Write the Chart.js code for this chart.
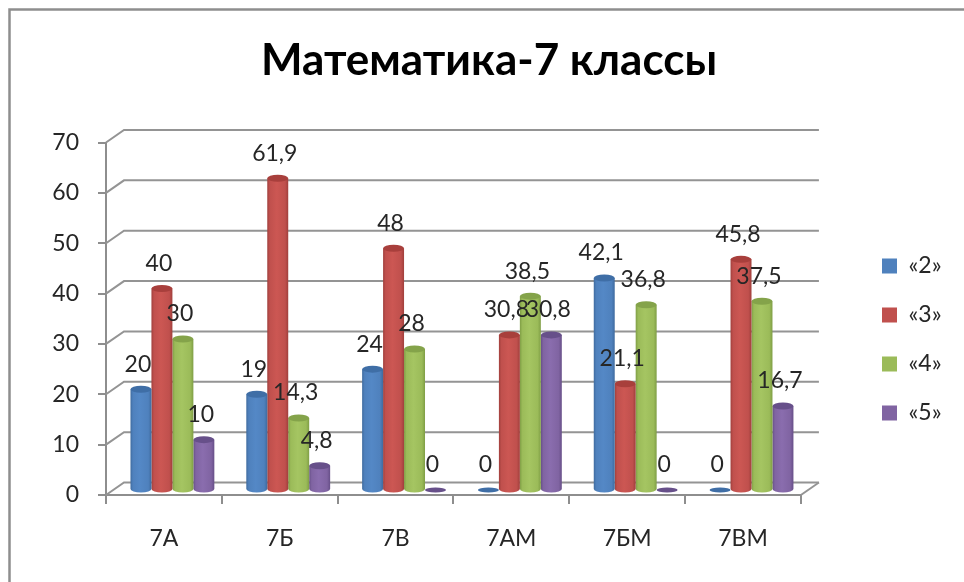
<!DOCTYPE html>
<html><head><meta charset="utf-8">
<style>html,body{margin:0;padding:0;background:#fff}canvas{display:block}</style>
<script src="https://cdn.jsdelivr.net/npm/chart.js@4"></script>
</head><body><canvas id="c" width="964" height="582"></canvas>
<script>
const categories = ["7А","7Б","7В","7АМ","7БМ","7ВМ"];
const seriesNames = ["«2»","«3»","«4»","«5»"];
const grade2 = [20,19,24,0,42.1,0];
const grade3 = [40,61.9,48,30.8,21.1,45.8];
const grade4 = [30,14.3,28,38.5,36.8,37.5];
const grade5 = [10,4.8,0,30.8,0,16.7];
const yTicks = [0,10,20,30,40,50,60,70];
const colors = ["#4f81bd","#c0504d","#9bbb59","#8064a2"];
const darks  = ["#3f6b9f","#a03f3c","#7f9e45","#674f88"];
const lights = ["#5488c6","#cc5753","#a5c562","#8a6dae"];
const caps   = ["#3f6ea6","#a83f3c","#84a34a","#67508a"];
const depth = {dx:18, dy:-12.5};
const barShift = {x:8.5, y:-5};
const CAT_PCT = 0.724;
const FONT = "Lato";

function stops(g,i){
  g.addColorStop(0,darks[i]); g.addColorStop(.12,colors[i]); g.addColorStop(.45,lights[i]);
  g.addColorStop(.85,colors[i]); g.addColorStop(1,darks[i]);
  return g;
}
function barFill(ctx){
  const ch = ctx.chart, xs = ch.scales.x;
  if(ctx.type!=='data' || !xs) return colors[ctx.datasetIndex];
  const w = (xs.right-xs.left)/categories.length*CAT_PCT/4;
  const l = xs.getPixelForValue(ctx.dataIndex)-2*w+ctx.datasetIndex*w;
  return stops(ch.ctx.createLinearGradient(l,0,l+w,0),ctx.datasetIndex);
}
const plugin3d = {
  id:'plugin3d',
  afterLayout(chart){
    const t = chart.titleBlock; t.left = 30; t.right = 948;
    const lg = chart.legend, h = lg.bottom-lg.top;
    lg.left = 882-lg.options.labels.padding; lg.right = 964;
    const top = 228.5; lg.top = top; lg.bottom = top+h;
  },
  beforeDraw(chart){
    const c = chart.ctx; c.save();
    c.strokeStyle="#8e8e8e"; c.lineWidth=2.5;
    c.beginPath(); c.moveTo(9.5,582); c.lineTo(9.5,9.5); c.lineTo(964,9.5); c.stroke();
    c.restore();
  },
  beforeDatasetsDraw(chart){
    const c = chart.ctx, ya = chart.scales.y, xa = chart.scales.x;
    c.save();
    c.strokeStyle="#949494"; c.lineWidth=2;
    yTicks.forEach(v=>{
      const y = ya.getPixelForValue(v);
      c.beginPath(); c.moveTo(xa.left,y); c.lineTo(xa.left+depth.dx,y+depth.dy); c.lineTo(xa.right+depth.dx,y+depth.dy); c.stroke();
    });
    const y0 = ya.getPixelForValue(0);
    c.beginPath(); c.moveTo(xa.right,y0); c.lineTo(xa.right+depth.dx,y0+depth.dy); c.stroke();
    c.restore();
    c.save(); c.translate(barShift.x,barShift.y);
  },
  afterDatasetDraw(chart,args){
    const c = chart.ctx, i = args.index, meta = args.meta;
    meta.data.forEach((el,k)=>{
      const rx = el.width/2, ry = 3.5, v = chart.data.datasets[i].data[k];
      if(v>0){
        const g = stops(c.createLinearGradient(el.x-rx,0,el.x+rx,0),i);
        c.fillStyle = g; c.beginPath(); c.ellipse(el.x,el.base,rx,ry,0,0,Math.PI); c.fill();
        c.fillStyle = caps[i]; c.beginPath(); c.ellipse(el.x,el.y,rx,ry,0,0,2*Math.PI); c.fill();
      } else {
        c.fillStyle = caps[i]; c.beginPath(); c.ellipse(el.x,el.y,rx,2.5,0,0,2*Math.PI); c.fill();
      }
    });
  },
  afterDatasetsDraw(chart){
    const c = chart.ctx;
    c.restore();
    c.save();
    c.fillStyle="#262626"; c.font="23px "+FONT; c.textAlign="center"; c.textBaseline="middle";
    chart.data.datasets.forEach((ds,i)=>{
      chart.getDatasetMeta(i).data.forEach((el,k)=>{
        const s = String(ds.data[k]).replace('.',',');
        c.fillText(s, el.x+barShift.x-3, el.y+barShift.y-25);
      });
    });
    c.restore();
  }
};
new Chart(document.getElementById('c'),{
  type:'bar',
  data:{labels:categories,datasets:[grade2,grade3,grade4,grade5].map((d,i)=>({
    label:seriesNames[i],data:d,backgroundColor:barFill,borderWidth:0,
    categoryPercentage:CAT_PCT,barPercentage:1
  }))},
  options:{
    responsive:false,animation:false,devicePixelRatio:1,
    layout:{padding:{left:0,right:67.5,top:0,bottom:0}},
    plugins:{
      tooltip:{enabled:false},
      title:{display:true,text:"Математика-7 классы",color:"#000",
        font:{family:FONT,size:44,weight:'bold',lineHeight:1.2},padding:{top:34.5,bottom:55.2}},
      legend:{position:'right',align:'start',
        onClick:null,
        labels:{boxWidth:15,boxHeight:15,padding:26,color:"#262626",
          font:{family:FONT,size:23},
          generateLabels(ch){return seriesNames.map((n,i)=>({text:n,fillStyle:colors[i],strokeStyle:colors[i],lineWidth:0,datasetIndex:i,fontColor:"#262626"}));}}}
    },
    scales:{
      x:{offset:true,
        afterFit(s){s.height=87;},
        grid:{drawOnChartArea:false,offset:true,color:"#8e8e8e",lineWidth:2,tickLength:9,tickColor:"#8e8e8e"},
        border:{color:"#8e8e8e",width:2},
        ticks:{color:"#262626",font:{family:FONT,size:23},padding:21,maxRotation:0}},
      y:{min:0,max:70,
        afterFit(s){s.width=106;},
        afterBuildTicks(s){s.ticks=yTicks.map(v=>({value:v}));},
        grid:{drawOnChartArea:false,color:"#8e8e8e",lineWidth:2,tickLength:8,tickColor:"#8e8e8e"},
        border:{color:"#8e8e8e",width:2},
        ticks:{color:"#262626",font:{family:FONT,size:23},padding:19}}
    }
  },
  plugins:[plugin3d]
});
</script></body></html>
